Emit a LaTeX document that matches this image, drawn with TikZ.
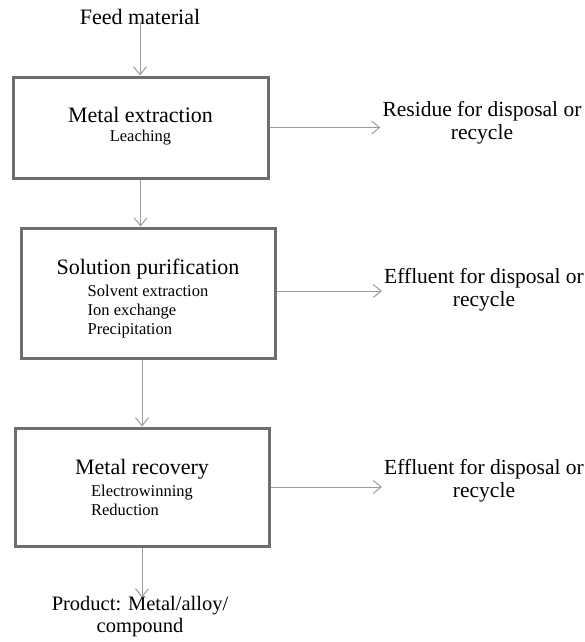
\documentclass[tikz,border=0pt]{standalone}
\usepackage{fontspec}
\setmainfont{Liberation Serif}
\usetikzlibrary{arrows.meta}
\definecolor{boxgray}{HTML}{6E6E6E}
\definecolor{flowgray}{HTML}{9C9C9C}
\begin{document}
\begin{tikzpicture}[x=1pt,y=-1pt,
  stage/.style={draw=boxgray, line width=3pt, fill=white, inner sep=0pt,
    align=center, font=\fontsize{22}{24}\selectfont},
  label/.style={inner sep=2pt, align=center, font=\fontsize{21.5}{23}\selectfont},
  flow/.style={draw=flowgray, line width=1pt, -{Straight Barb[length=8pt,width=13pt]}}]
\useasboundingbox (0,0) rectangle (585,642);

\newcommand{\subitems}[1]{\fontsize{16.5}{19}\selectfont\begin{tabular}[t]{@{}l@{}}#1\end{tabular}}

% process stages
\node[stage, minimum width=255pt, minimum height=101pt] (ext) at (140.5,127.5)
  {Metal extraction\\[-5pt]\subitems{Leaching}\\[-18pt]};
\node[stage, minimum width=254pt, minimum height=130pt] (pur) at (148,293)
  {Solution purification\\[-2pt]\subitems{Solvent extraction\\Ion exchange\\Precipitation}\\[-14pt]};
\node[stage, minimum width=254pt, minimum height=118pt] (rec) at (142,487)
  {Metal recovery\\[-2pt]\subitems{Electrowinning\\Reduction}\\[-8pt]};

% inputs and outputs
\node[label, font=\fontsize{22}{24}\selectfont] (feed) at (140,17) {Feed material};
\node[label, font=\fontsize{20.5}{22}\selectfont] (prod) at (140,617) {Product: Metal/alloy/\\compound};
\node[label] (res) at (482,123) {Residue for disposal or\\recycle};
\node[label] (eff1) at (484,290) {Effluent for disposal or\\recycle};
\node[label] (eff2) at (484,481) {Effluent for disposal or\\recycle};

% main flow
\draw[flow] ([yshift=5pt]feed.south) -- (feed.south |- ext.north);
\draw[flow] (ext.south) -- (ext.south |- pur.north);
\draw[flow] (rec.north |- pur.south) -- (rec.north);
\draw[flow] (rec.south) -- ([yshift=-3pt]rec.south |- prod.north);

% side streams
\draw[flow] (ext.east) -- (ext.east -| res.west);
\draw[flow] ([yshift=2pt]pur.east) -- ([yshift=2pt]pur.east -| eff1.west);
\draw[flow] (rec.east) -- (rec.east -| eff2.west);
\end{tikzpicture}
\end{document}
